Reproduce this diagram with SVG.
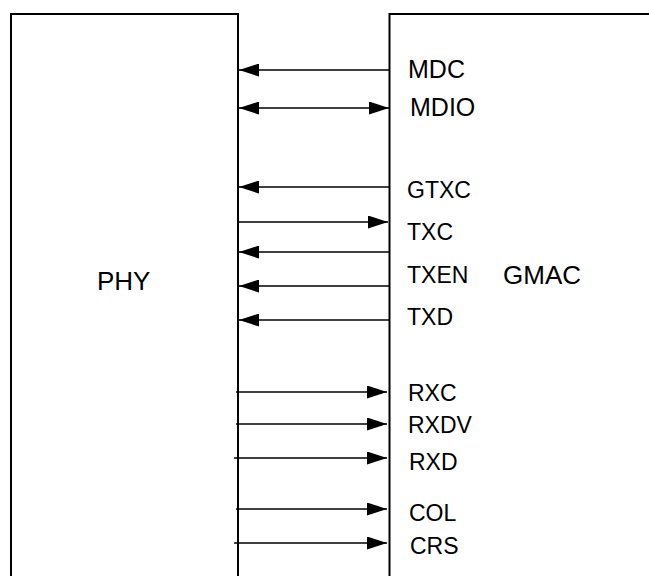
<svg xmlns="http://www.w3.org/2000/svg" width="649" height="576" viewBox="0 0 649 576">
<style>
.box{fill:#fff;stroke:#000;stroke-width:2}
.ln{fill:none;stroke:#000;stroke-width:1.7}
text{font-family:"Liberation Sans",Arial,sans-serif;fill:#000}
.big{font-size:26px}
.mid{font-size:25px}
.sm{font-size:23px}
</style>
<defs>
<marker id="ah" markerUnits="userSpaceOnUse" markerWidth="20" markerHeight="13" refX="20" refY="6.5" orient="auto-start-reverse" viewBox="0 0 20 13">
<path d="M0,0 L20,6.5 L0,13 z" fill="#000"/>
</marker>
</defs>
<g id="phy">
<rect class="box" x="11" y="14" width="227" height="580"/>
<text class="big" x="97" y="290">PHY</text>
</g>
<g id="gmac">
<rect class="box" x="389.5" y="14" width="280" height="580"/>
<text class="big" x="503" y="284">GMAC</text>
<text class="mid" x="408" y="78">MDC</text>
<text class="mid" x="410" y="116">MDIO</text>
<text class="sm" x="407" y="198">GTXC</text>
<text class="sm" x="407" y="240">TXC</text>
<text class="sm" x="407" y="283">TXEN</text>
<text class="sm" x="407" y="325">TXD</text>
<text class="sm" x="408" y="401">RXC</text>
<text class="sm" x="408" y="433">RXDV</text>
<text class="sm" x="409" y="470">RXD</text>
<text class="sm" x="409" y="521">COL</text>
<text class="sm" x="410" y="554">CRS</text>
</g>
<g id="connectors">
<path class="ln" d="M390,70 H239" marker-end="url(#ah)"/>
<path class="ln" d="M239,108 H389" marker-start="url(#ah)" marker-end="url(#ah)"/>
<path class="ln" d="M390,187 H239" marker-end="url(#ah)"/>
<path class="ln" d="M238,222 H388" marker-end="url(#ah)"/>
<path class="ln" d="M390,252 H239" marker-end="url(#ah)"/>
<path class="ln" d="M390,286 H239" marker-end="url(#ah)"/>
<path class="ln" d="M390,320 H239" marker-end="url(#ah)"/>
<path class="ln" d="M236,392 H387" marker-end="url(#ah)"/>
<path class="ln" d="M236,424 H387" marker-end="url(#ah)"/>
<path class="ln" d="M234,458 H387" marker-end="url(#ah)"/>
<path class="ln" d="M236,509 H387" marker-end="url(#ah)"/>
<path class="ln" d="M234,543 H387" marker-end="url(#ah)"/>
</g>
</svg>
